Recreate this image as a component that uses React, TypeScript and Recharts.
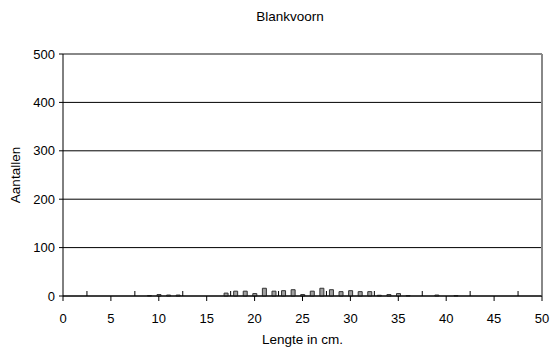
import { BarChart, Bar, XAxis, YAxis, CartesianGrid, ReferenceLine, Label } from "recharts";

// lengte (cm) en aantallen
const lengths = [9, 10, 11, 12, 17, 18, 19, 20, 21, 22, 23, 24, 25, 26, 27, 28, 29, 30, 31, 32, 33, 34, 35, 36, 39, 41];
const counts = [1, 3, 2, 2, 6, 10, 10, 5, 16, 10, 11, 13, 3, 10, 16, 13, 9, 11, 9, 9, 1.5, 3, 5, 1, 2, 1];

const xTicks = [0, 2.5, 5, 7.5, 10, 12.5, 15, 17.5, 20, 22.5, 25, 27.5, 30, 32.5, 35, 37.5, 40, 42.5, 45, 47.5, 50];
const yTicks = [0, 100, 200, 300, 400, 500];

const FONT = "Liberation Sans, Arial, sans-serif";

const data = lengths.map((l, i) => ({ lengte: l, aantal: counts[i] }));

// major ticks (every 5) point down with a label, minor ticks point up
function XTick(props: any) {
  const { x, y, payload } = props;
  const v = payload.value as number;
  if (v % 5 !== 0) {
    return <line x1={x} x2={x} y1={y} y2={y - 5} stroke="#000" />;
  }
  return (
    <g>
      <line x1={x} x2={x} y1={y} y2={y + 5} stroke="#000" />
      <text x={x} y={y + 27} textAnchor="middle" fontSize={13} fontFamily={FONT} fill="#000">
        {v}
      </text>
    </g>
  );
}

function YLabel(props: any) {
  const vb = props.viewBox || { x: 0, y: 54, width: 63, height: 242 };
  const cx = 20;
  const cy = vb.y + vb.height / 2;
  return (
    <text
      x={cx}
      y={cy}
      transform={`rotate(-90, ${cx}, ${cy})`}
      textAnchor="middle"
      fontSize={13.5}
      fontFamily={FONT}
      fill="#000"
    >
      Aantallen
    </text>
  );
}

export default function App() {
  return (
    <div style={{ position: "absolute", left: 0, top: 0, width: 550, height: 356, background: "#fff" }}>
      <div
        style={{
          position: "absolute",
          top: 9,
          left: 0,
          width: 580,
          textAlign: "center",
          fontFamily: FONT,
          fontSize: 13.5,
        }}
      >
        Blankvoorn
      </div>
      <BarChart width={550} height={356} data={data} margin={{ top: 54, right: 8, left: 0, bottom: 10 }}>
        <CartesianGrid vertical={false} stroke="#000" strokeOpacity={1} />
        <XAxis
          dataKey="lengte"
          type="number"
          domain={[0, 50]}
          ticks={xTicks}
          interval={0}
          tickLine={false}
          tickSize={0}
          tickMargin={0}
          height={50}
          stroke="#000"
          tick={<XTick />}
          label={{ value: "Lengte in cm.", position: "insideBottom", offset: 2, fontSize: 13.5, fontFamily: FONT, fill: "#000" }}
        />
        <YAxis
          type="number"
          domain={[0, 500]}
          ticks={yTicks}
          width={63}
          stroke="#000"
          tickSize={4}
          tickMargin={4}
          tick={{ fontSize: 13, fontFamily: FONT, fill: "#000" }}
        >
          <Label content={<YLabel />} />
        </YAxis>
        <ReferenceLine y={500} stroke="#888" strokeWidth={2} />
        <ReferenceLine x={50} stroke="#888" strokeWidth={2} />
        <Bar dataKey="aantal" barSize={4} fill="#a0a0a0" stroke="#333" strokeWidth={1} isAnimationActive={false} />
      </BarChart>
    </div>
  );
}
